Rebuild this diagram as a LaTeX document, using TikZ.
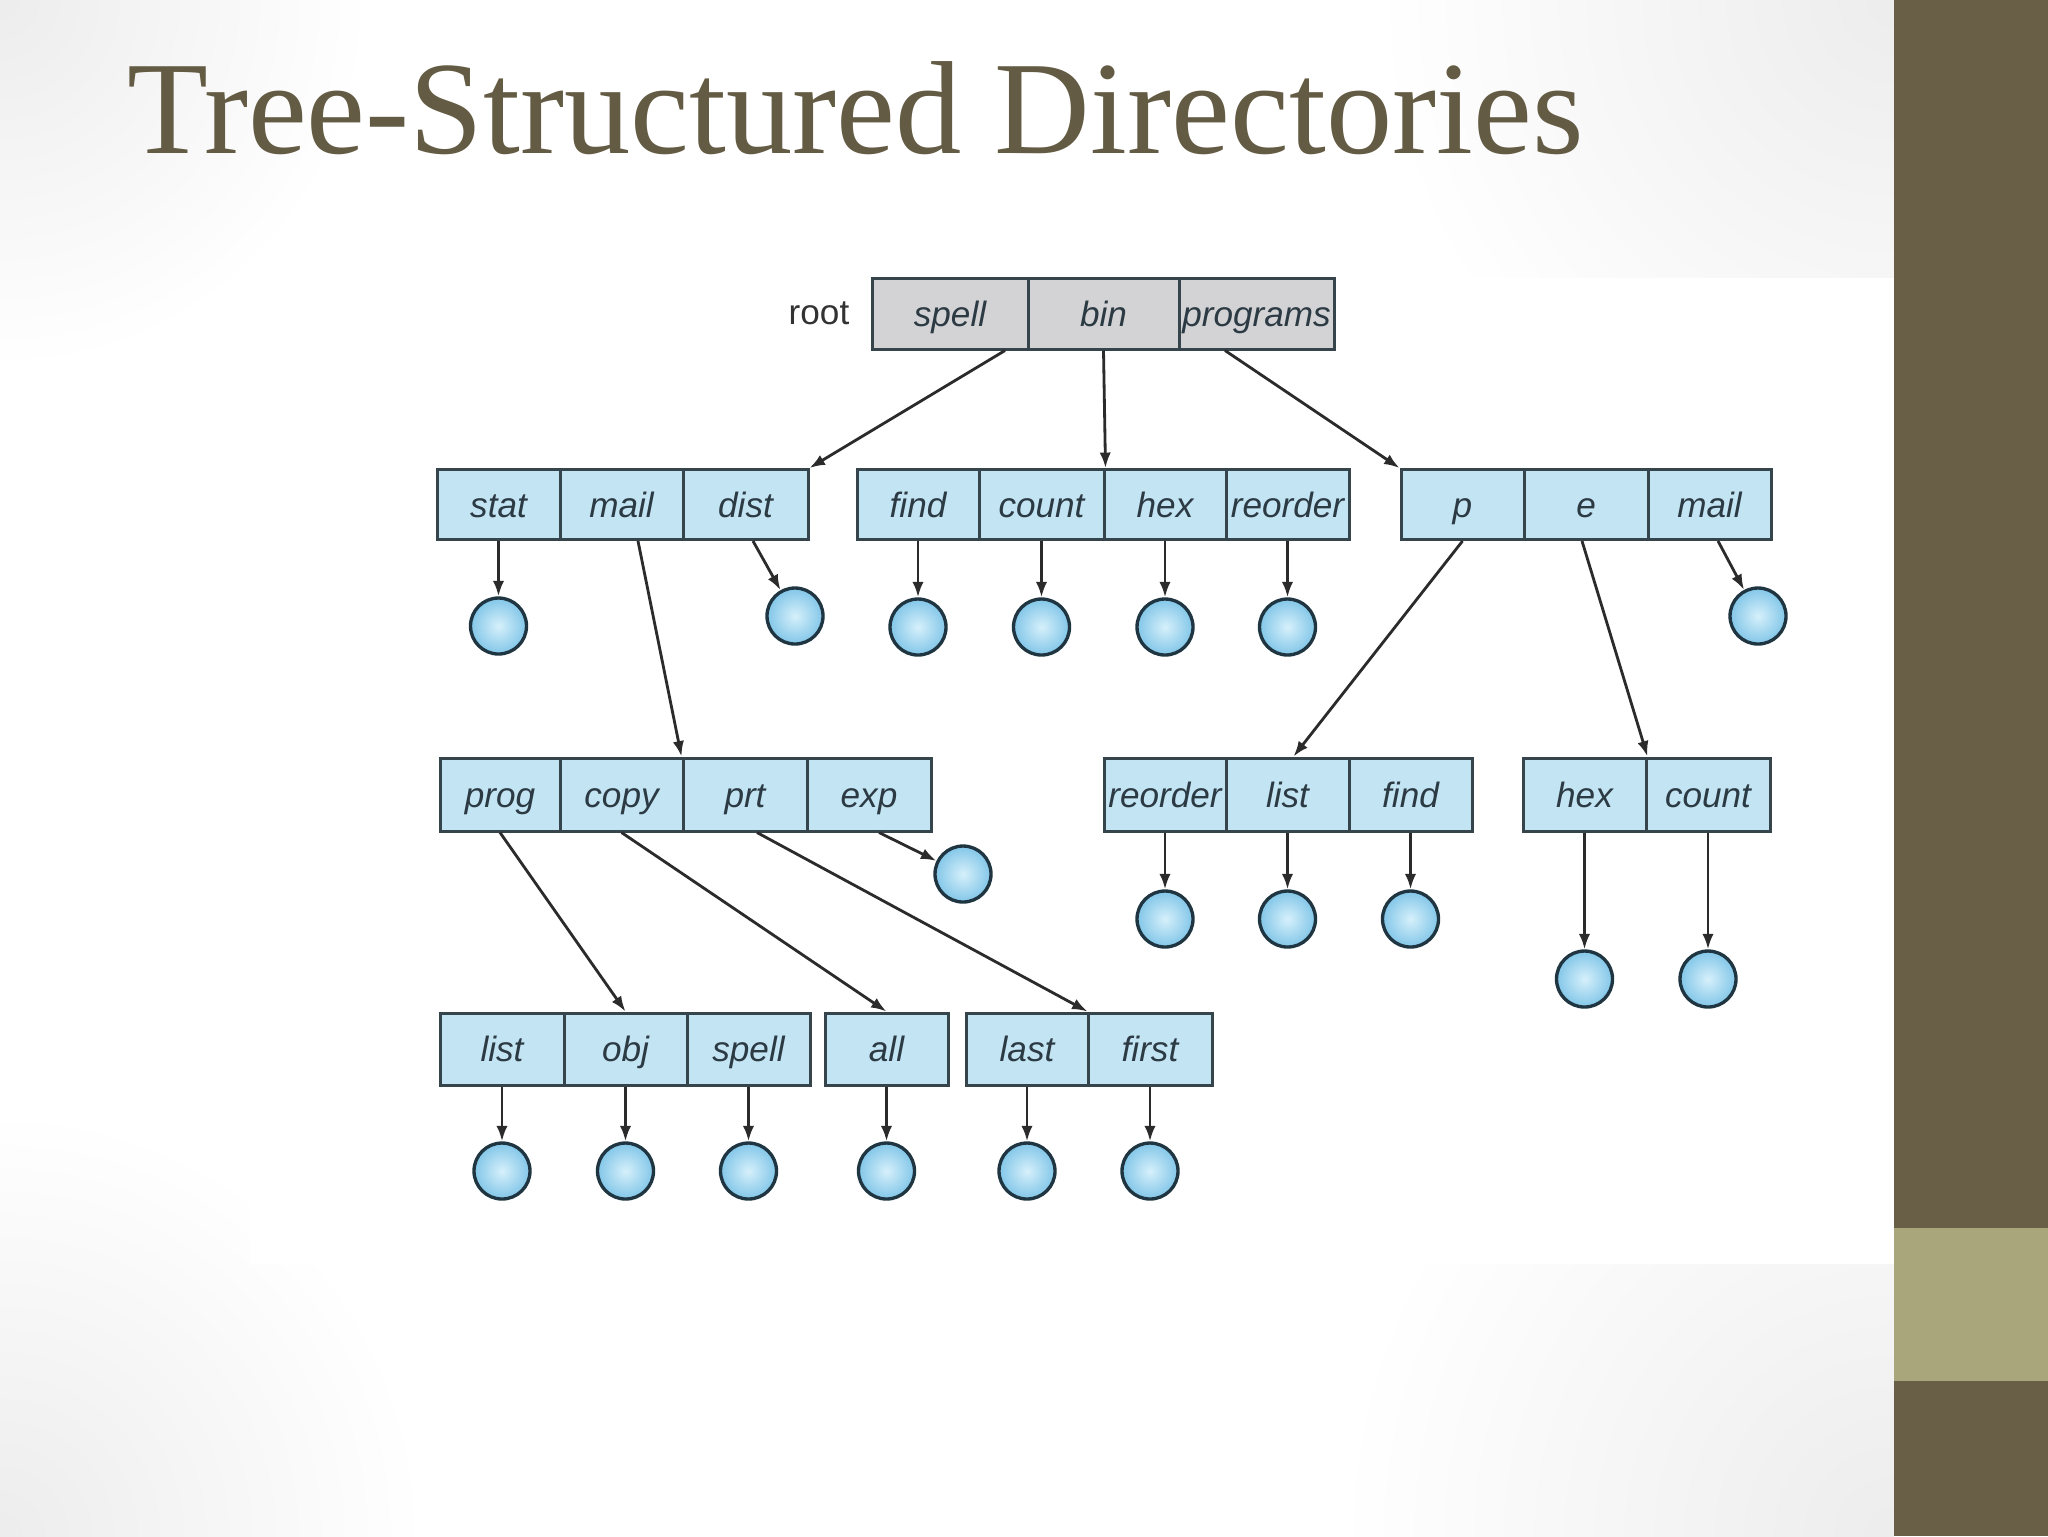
\documentclass[tikz,border=0pt]{standalone}
\usepackage{fontspec}
\setmainfont{Liberation Serif}
\newfontfamily\sansf{Liberation Sans}
\usetikzlibrary{arrows.meta,calc}
\definecolor{sidebar}{HTML}{695E46}
\definecolor{band}{HTML}{A9A67C}
\definecolor{titlec}{HTML}{635B43}
\definecolor{cellblue}{HTML}{C3E4F3}
\definecolor{cellgray}{HTML}{D3D3D5}
\definecolor{linec}{HTML}{36444C}
\definecolor{textc}{HTML}{2C3A44}
\definecolor{arrc}{HTML}{2B2B2B}
\definecolor{ballin}{HTML}{D6F0FB}
\definecolor{ballout}{HTML}{82C6E8}
\definecolor{ballline}{HTML}{1F3541}
\begin{document}
\begin{tikzpicture}[x=0.1mm,y=-0.1mm,
  cell/.style={draw=linec, line width=0.85pt, fill=cellblue, inner sep=0pt, text=textc,
    font=\sansf\itshape\fontsize{10pt}{12pt}\selectfont, text height=7.2pt, text depth=0pt},
  wd/.style={minimum width=#1mm},
  rowR/.style={cell, fill=cellgray, minimum height=7.1mm, wd=#1},
  rowA/.style={cell, minimum height=7.0mm, wd=#1},
  rowB/.style={cell, minimum height=7.3mm, wd=#1},
  rowC/.style={cell, minimum height=7.2mm, wd=#1},
  ball/.style={circle, draw=ballline, line width=0.95pt, inner color=ballin, outer color=ballout,
    minimum size=5.6mm, inner sep=0pt},
  arr/.style={draw=arrc, line width=0.8pt, -{Latex[length=4.4pt,width=3.2pt]}},
  lbl/.style={inner sep=0pt, text=black!80, font=\sansf\fontsize{10pt}{12pt}\selectfont},
  haze/.style={fill=black, opacity=0.005}
]
\useasboundingbox (0,0) rectangle (2048,1536);
% background with soft grey corners
\fill[white] (0,0) rectangle (1894,1536);
\begin{scope}
  \clip (0,0) rectangle (1894,1536);
  \foreach \f in {1,...,18}{
    \fill[haze] (0,0) circle[radius=20*\f];
    \fill[haze] (0,1536) circle[radius=23*\f];
    \fill[haze] (1894,1536) circle[radius=30*\f];
    \fill[haze] (1894,0) circle[radius=28*\f];
  }
\end{scope}
\fill[white] (250,278) rectangle (1894,1264);
\fill[sidebar] (1894,0) rectangle (2048,1536);
\fill[band] (1894,1228) rectangle (2048,1381);
% title
\node[anchor=base west, inner sep=0pt, text=titlec, font=\fontsize{37.7pt}{40pt}\selectfont] (title) at (127,153) {Tree-Structured Directories};

% root
\node[lbl] (rootlbl) at (819,313) {root};
\node[rowR=15.6] (spellR) at (950,313.5) {spell};
\node[rowR=15.1] (bin) at (1103.5,313.5) {bin};
\node[rowR=15.5] (programs) at (1256.5,313.5) {programs};

% level 1
\node[rowA=12.3] (stat) at (498.5,504.5) {stat};
\node[rowA=12.3] (mailA) at (621.5,504.5) {mail};
\node[rowA=12.5] (dist) at (745.5,504.5) {dist};
\node[rowA=12.2] (findB) at (918,504.5) {find};
\node[rowA=12.5] (countB) at (1041.5,504.5) {count};
\node[rowA=12.2] (hexB) at (1165,504.5) {hex};
\node[rowA=12.3] (reorderB) at (1287.5,504.5) {reorder};
\node[rowA=12.3] (p) at (1462.5,504.5) {p};
\node[rowA=12.4] (e) at (1586,504.5) {e};
\node[rowA=12.3] (mailC) at (1709.5,504.5) {mail};

% level 2
\node[rowB=12.0] (prog) at (500,794.5) {prog};
\node[rowB=12.3] (copy) at (621.5,794.5) {copy};
\node[rowB=12.4] (prt) at (745,794.5) {prt};
\node[rowB=12.4] (exp) at (869,794.5) {exp};
\node[rowB=12.2] (reorderE) at (1165,794.5) {reorder};
\node[rowB=12.3] (listE) at (1287.5,794.5) {list};
\node[rowB=12.3] (findE) at (1410.5,794.5) {find};
\node[rowB=12.3] (hexF) at (1584.5,794.5) {hex};
\node[rowB=12.4] (countF) at (1708,794.5) {count};

% level 3
\node[rowC=12.4] (listG) at (502,1049) {list};
\node[rowC=12.3] (obj) at (625.5,1049) {obj};
\node[rowC=12.3] (spellG) at (748.5,1049) {spell};
\node[rowC=12.3] (all) at (886.5,1049) {all};
\node[rowC=12.2] (last) at (1027,1049) {last};
\node[rowC=12.4] (first) at (1150,1049) {first};

% files
\node[ball] (statc) at (498.5,626) {};
\node[ball] (distc) at (795,616) {};
\node[ball] (findc) at (918,627) {};
\node[ball] (countc) at (1041.5,627) {};
\node[ball] (hexc) at (1165,627) {};
\node[ball] (reorderc) at (1287.5,627) {};
\node[ball] (mailc) at (1758,616) {};
\node[ball] (expc) at (963,874) {};
\node[ball] (reorderEc) at (1165,919) {};
\node[ball] (listEc) at (1287.5,919) {};
\node[ball] (findEc) at (1410.5,919) {};
\node[ball] (hexFc) at (1584.5,979) {};
\node[ball] (countFc) at (1708,979) {};
\node[ball] (listGc) at (502,1171) {};
\node[ball] (objc) at (625.5,1171) {};
\node[ball] (spellGc) at (748.5,1171) {};
\node[ball] (allc) at (886.5,1171) {};
\node[ball] (lastc) at (1027,1171) {};
\node[ball] (firstc) at (1150,1171) {};

% directory arrows
\draw[arr] ([xshift=5.5mm]spellR.south) -- (dist.north east);
\draw[arr] (bin.south) -- (countB.north east);
\draw[arr] ([xshift=-3.15mm]programs.south) -- (p.north west);
\draw[arr] ([xshift=1.65mm]mailA.south) -- (prt.north west);
\draw[arr] (p.south) -- ([xshift=0.6mm]listE.north);
\draw[arr] ([xshift=-0.4mm]e.south) -- (hexF.north east);
\draw[arr] (prog.south) -- (obj.north);
\draw[arr] (copy.south) -- (all.north);
\draw[arr] ([xshift=1.2mm]prt.south) -- ([xshift=-0.2mm]last.north east);

% file arrows
\draw[arr] (stat.south) -- (statc);
\draw[arr] ([xshift=0.75mm]dist.south) -- (distc);
\draw[arr] (findB.south) -- (findc);
\draw[arr] (countB.south) -- (countc);
\draw[arr] (hexB.south) -- (hexc);
\draw[arr] (reorderB.south) -- (reorderc);
\draw[arr] ([xshift=0.85mm]mailC.south) -- (mailc);
\draw[arr] ([xshift=1mm]exp.south) -- (expc);
\draw[arr] (reorderE.south) -- (reorderEc);
\draw[arr] (listE.south) -- (listEc);
\draw[arr] (findE.south) -- (findEc);
\draw[arr] (hexF.south) -- (hexFc);
\draw[arr] (countF.south) -- (countFc);
\draw[arr] (listG.south) -- (listGc);
\draw[arr] (obj.south) -- (objc);
\draw[arr] (spellG.south) -- (spellGc);
\draw[arr] (all.south) -- (allc);
\draw[arr] (last.south) -- (lastc);
\draw[arr] (first.south) -- (firstc);
\end{tikzpicture}
\end{document}
